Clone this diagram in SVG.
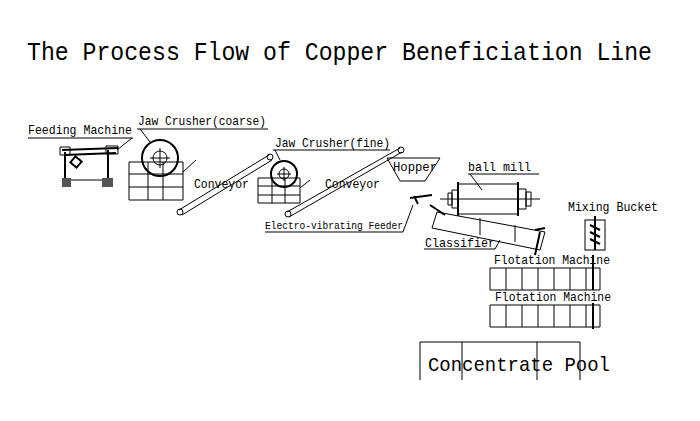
<svg xmlns="http://www.w3.org/2000/svg" width="700" height="421" viewBox="0 0 700 421">
<style>
.t{font-family:"Liberation Mono",monospace;fill:#000}
.l{fill:none;stroke:#000;stroke-width:1}
.th{fill:none;stroke:#000;stroke-width:2}
</style>
<rect width="700" height="421" fill="#fff"/>
<text class="t" x="27" y="60" font-size="25" textLength="625" lengthAdjust="spacingAndGlyphs">The Process Flow of Copper Beneficiation Line</text>
<g id="feeding-machine">
<text class="t" x="28" y="134" font-size="13" textLength="104" lengthAdjust="spacingAndGlyphs">Feeding Machine</text>
<path class="l" d="M28 138H133M132 138L117 150"/>
<path class="th" d="M62 150L118 148M64 155L116 153M65 152V178M108 150V178"/>
<path class="l" d="M60 147h10v8h-10zM106 146h12v8h-12zM70 180H108"/>
<rect x="62" y="178" width="9" height="9" fill="#555"/><rect x="102" y="178" width="11" height="9" fill="#555"/>
<rect x="72" y="158" width="8" height="8" transform="rotate(40 76 162)" class="th"/>
</g>
<g id="jaw-crusher-coarse">
<text class="t" x="138" y="125" font-size="13" textLength="128" lengthAdjust="spacingAndGlyphs">Jaw Crusher(coarse)</text>
<path class="l" d="M137 129H268M140 129L150 142"/>
<circle class="th" cx="160" cy="158" r="18"/><circle class="l" cx="160" cy="158" r="7"/>
<path class="l" d="M150 158H170M160 148V168"/>
<path class="l" d="M129 162H183V200H129ZM129 174H183M129 187H183M148 162V200M163 162V200M183 172L196 160"/>
</g>
<g id="conveyor-1">
<text class="t" x="194" y="188" font-size="13" textLength="55" lengthAdjust="spacingAndGlyphs">Conveyor</text>
<path class="l" d="M179 210L269 155M182 215L272 160"/><circle class="l" cx="180" cy="212" r="3"/><circle class="l" cx="270" cy="157" r="3"/>
</g>
<g id="jaw-crusher-fine">
<text class="t" x="275" y="147" font-size="13" textLength="115" lengthAdjust="spacingAndGlyphs">Jaw Crusher(fine)</text>
<path class="l" d="M273 150H390M275 150L280 160"/>
<circle class="th" cx="284" cy="174" r="13"/><circle class="l" cx="284" cy="174" r="5"/>
<path class="l" d="M277 174H291M284 167V181"/>
<path class="l" d="M258 178H300V203H258ZM258 186H300M258 195H300M272 178V203M285 178V203M300 188L310 180"/>
</g>
<g id="conveyor-2">
<text class="t" x="325" y="188" font-size="13" textLength="55" lengthAdjust="spacingAndGlyphs">Conveyor</text>
<path class="l" d="M287 212L400 148M289 217L402 152"/><circle class="l" cx="288" cy="214" r="3"/><circle class="l" cx="401" cy="150" r="3"/>
</g>
<g id="hopper">
<path class="l" d="M387 158H440L425 181H400Z"/>
<text class="t" x="393" y="171" font-size="13" textLength="44" lengthAdjust="spacingAndGlyphs">Hopper</text>
</g>
<g id="electro-vibrating-feeder">
<text class="t" x="265" y="229" font-size="10" textLength="138" lengthAdjust="spacingAndGlyphs">Electro-vibrating Feeder</text>
<path class="l" d="M265 232H403L413 205"/>
<path class="th" d="M410 198L432 195M414 196L418 204"/>
</g>
<g id="ball-mill">
<text class="t" x="468" y="171" font-size="13" textLength="63" lengthAdjust="spacingAndGlyphs">ball mill</text>
<path class="l" d="M468 174H539M470 174L482 190"/>
<rect class="l" x="458" y="184" width="60" height="30"/>
<path class="th" d="M458 182V216M518 182V216"/>
<path class="l" d="M452 190h6v18h-6zM448 193h4v12h-4zM518 189h8v20h-8zM526 192h5v14h-5zM440 199H540"/>
</g>
<g id="classifier">
<path class="l" d="M437 212L545 232L540 250L432 228ZM480 218V235M515 225V242"/>
<path class="th" d="M430 205L445 215M540 232L535 255M535 230L545 228"/>
<text class="t" x="425" y="247" font-size="13" textLength="70" lengthAdjust="spacingAndGlyphs">Classifier</text>
<path class="l" d="M424 249H495L500 240"/>
</g>
<g id="mixing-bucket">
<text class="t" x="568" y="211" font-size="13" textLength="90" lengthAdjust="spacingAndGlyphs">Mixing Bucket</text>
<rect class="l" x="585" y="220" width="20" height="30"/>
<path class="th" d="M595 216V250M590 225L600 230M590 232L600 237M590 239L600 244"/>
</g>
<g id="flotation-1">
<text class="t" x="494" y="264" font-size="13" textLength="116" lengthAdjust="spacingAndGlyphs">Flotation Machine</text>
<path class="l" d="M490 268H600V290H490ZM506 268V290M522 268V290M538 268V290M554 268V290M570 268V290M586 268V290"/>
<path class="th" d="M593 255V290"/>
</g>
<g id="flotation-2">
<text class="t" x="495" y="301" font-size="13" textLength="116" lengthAdjust="spacingAndGlyphs">Flotation Machine</text>
<path class="l" d="M490 305H600V327H490ZM506 305V327M522 305V327M538 305V327M554 305V327M570 305V327M586 305V327"/>
<path class="th" d="M593 303V329"/>
</g>
<g id="concentrate-pool">
<path class="l" d="M420 342V380M462 342V380M537 342V380M580 342V380M420 342H580"/>
<text class="t" x="428" y="371" font-size="21" textLength="182" lengthAdjust="spacingAndGlyphs">Concentrate Pool</text>
</g>
<g id="connectors"/>
</svg>
